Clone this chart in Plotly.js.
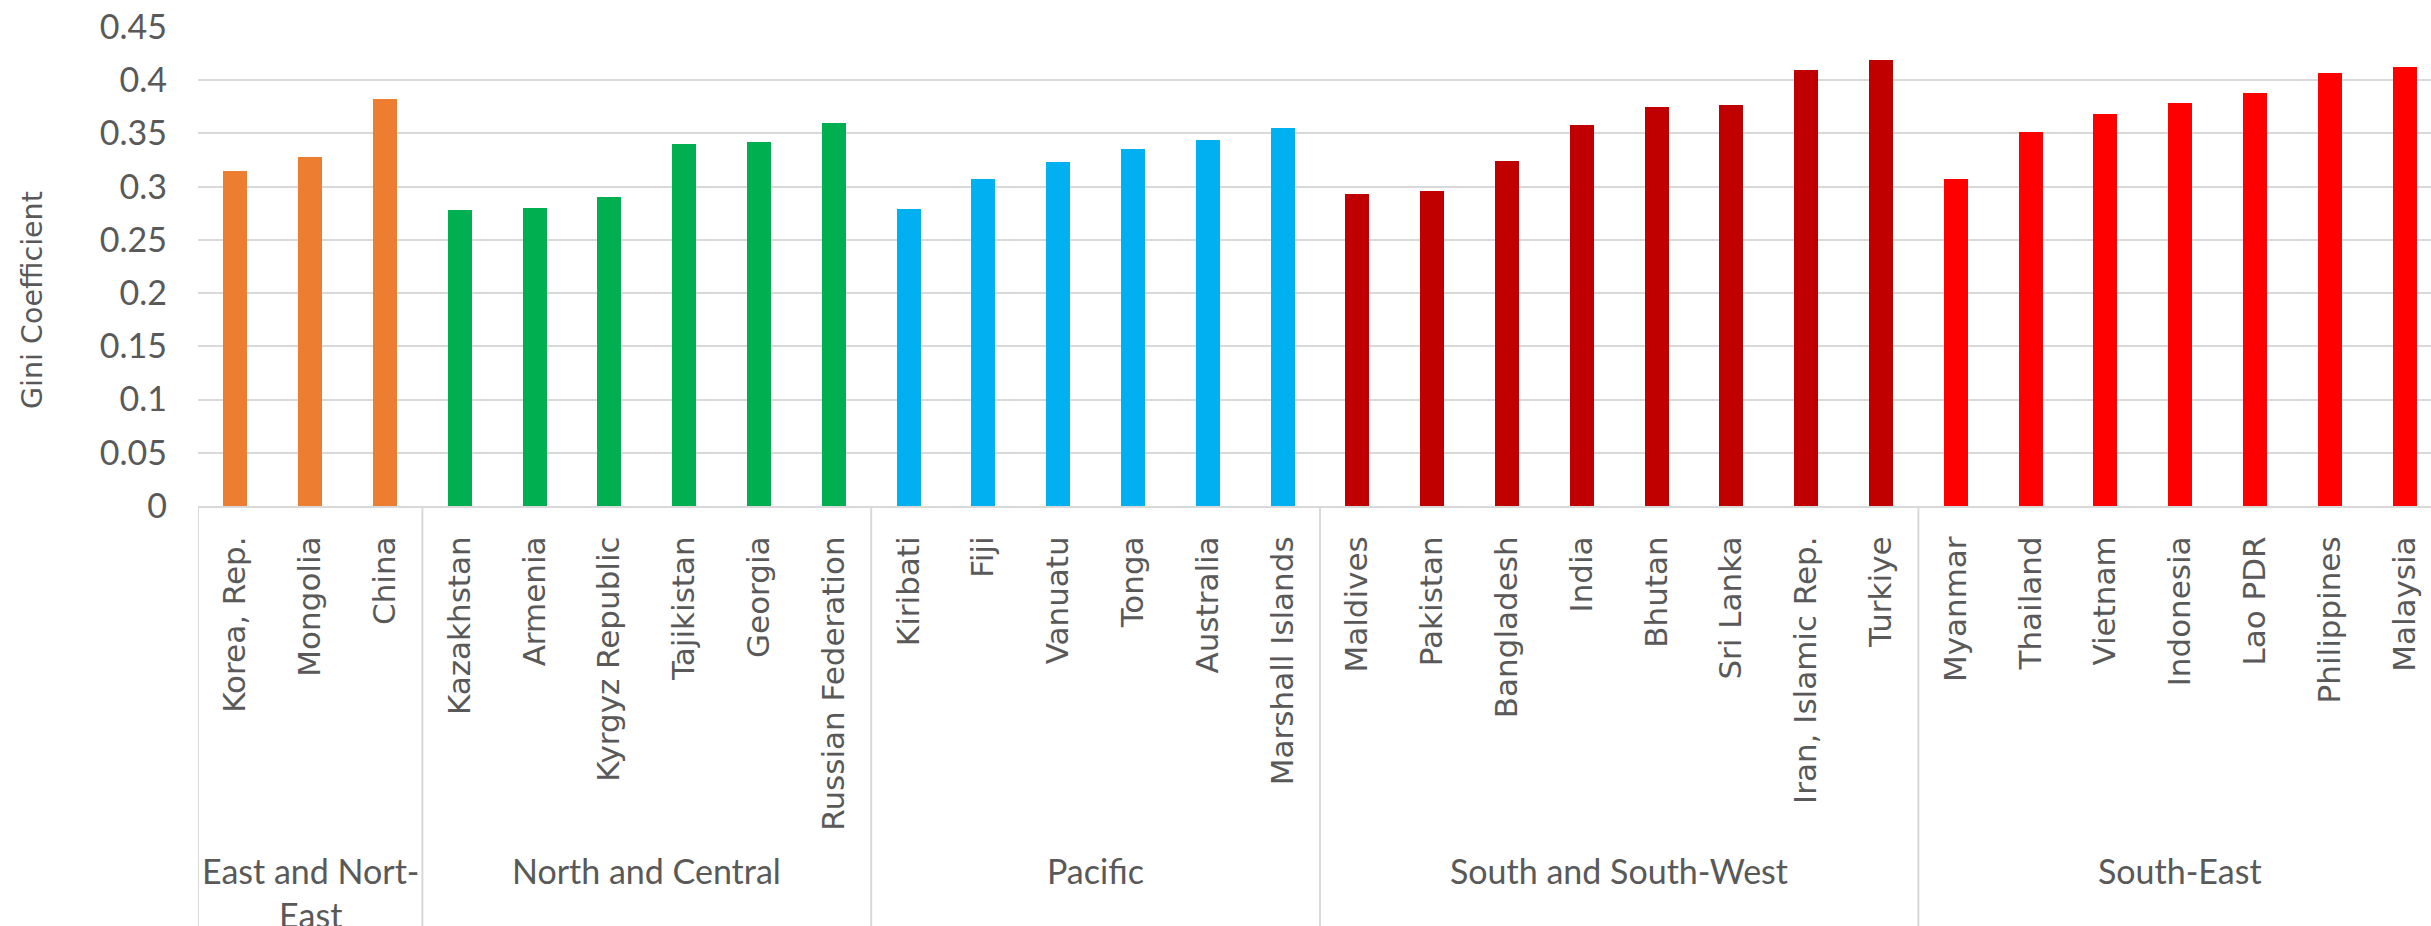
<!DOCTYPE html>
<html>
<head>
<meta charset="utf-8">
<script src="https://cdn.plot.ly/plotly-3.0.1.min.js"></script>
<style>
  html, body { margin: 0; padding: 0; background: #ffffff; }
  #chart { width: 2431px; height: 926px; }
</style>
</head>
<body>
<div id="chart"></div>
<script>
// ---- Data ----
const groupLabels = ["East and Nort-<br>East", "North and Central", "Pacific", "South and South-West", "South-East"];
const groupColors = ["#ED7D31", "#00B050", "#00B0F0", "#C00000", "#FF0000"];

const eastNames = ["Korea, Rep.", "Mongolia", "China"];
const eastValues = [0.315, 0.328, 0.382];

const northNames = ["Kazakhstan", "Armenia", "Kyrgyz Republic", "Tajikistan", "Georgia", "Russian Federation"];
const northValues = [0.278, 0.280, 0.290, 0.340, 0.342, 0.360];

const pacificNames = ["Kiribati", "Fiji", "Vanuatu", "Tonga", "Australia", "Marshall Islands"];
const pacificValues = [0.279, 0.307, 0.323, 0.335, 0.344, 0.355];

const southNames = ["Maldives", "Pakistan", "Bangladesh", "India", "Bhutan", "Sri Lanka", "Iran, Islamic Rep.", "Turkiye"];
const southValues = [0.293, 0.296, 0.324, 0.358, 0.375, 0.377, 0.410, 0.419];

const seNames = ["Myanmar", "Thailand", "Vietnam", "Indonesia", "Lao PDR", "Philippines", "Malaysia"];
const seValues = [0.307, 0.351, 0.368, 0.379, 0.388, 0.407, 0.412];

const yTickValues = [0, 0.05, 0.1, 0.15, 0.2, 0.25, 0.3, 0.35, 0.4, 0.45];
const yTickLabels = ["0", "0.05", "0.1", "0.15", "0.2", "0.25", "0.3", "0.35", "0.4", "0.45"];
const yTitle = "Gini Coefficient";

// ---- Build ----
const groupNames = [eastNames, northNames, pacificNames, southNames, seNames];
const groupValues = [eastValues, northValues, pacificValues, southValues, seValues];
const allNames = [].concat(...groupNames);

const textColor = "#595959";
const gridColor = "#d9d9d9";
const FONT = "Lato, 'Open Sans', sans-serif";
const WIDE = "'DejaVu Sans', sans-serif";

const traces = groupNames.map((names, i) => ({
  type: "bar",
  x: names,
  y: groupValues[i],
  width: 0.32,
  marker: { color: groupColors[i], line: { width: 0 } },
  showlegend: false,
  hoverinfo: "x+y"
}));

const W = 2431, H = 926;
const mL = 198, mT = 27, mB = 420;
const plotH = H - mT - mB;
const catPx = 74.8;
const plotW = W - mL;
const xEnd = -0.5 + plotW / catPx;

const shapes = [];
const annotations = [];
let start = 0;
groupNames.forEach((names, i) => {
  const b = start - 0.5;
  shapes.push({
    type: "line", xref: "x", yref: "paper",
    x0: b, x1: b, y0: 0, y1: -(mB + 10) / plotH,
    line: { color: gridColor, width: 2 }
  });
  annotations.push({
    xref: "x", yref: "paper",
    x: start + (names.length - 1) / 2,
    y: -(848 - (mT + plotH)) / plotH,
    yanchor: "top", xanchor: "center",
    text: groupLabels[i], showarrow: false,
    font: { family: FONT, size: 34, color: textColor },
    align: "center"
  });
  start += names.length;
});

annotations.push({
  xref: "paper", yref: "paper",
  x: (32 - mL) / plotW, y: (mT + plotH - 300) / plotH,
  xanchor: "center", yanchor: "middle",
  text: yTitle, textangle: -90, showarrow: false,
  font: { family: WIDE, size: 28.5, color: textColor }
});

const layout = {
  width: W, height: H,
  margin: { l: mL, r: 0, t: mT, b: mB, pad: 0 },
  paper_bgcolor: "#ffffff",
  plot_bgcolor: "#ffffff",
  barmode: "overlay",
  bargap: 0,
  xaxis: {
    type: "category",
    categoryorder: "array",
    categoryarray: allNames,
    range: [-0.5, xEnd],
    tickangle: -90,
    ticks: "",
    ticklabelstandoff: 16,
    tickfont: { family: WIDE, size: 31, color: textColor },
    showgrid: false,
    showline: true, linecolor: gridColor, linewidth: 2,
    zeroline: false,
    automargin: false,
    fixedrange: true
  },
  yaxis: {
    range: [0, 0.45],
    tickvals: yTickValues,
    ticktext: yTickLabels,
    ticks: "",
    ticklabelstandoff: 30,
    tickfont: { family: FONT, size: 34, color: textColor },
    showgrid: true, gridcolor: gridColor, gridwidth: 2,
    zeroline: false, showline: false,
    automargin: false,
    fixedrange: true
  },
  shapes: shapes,
  annotations: annotations
};

Plotly.newPlot("chart", traces, layout, { displayModeBar: false });
</script>
</body>
</html>
